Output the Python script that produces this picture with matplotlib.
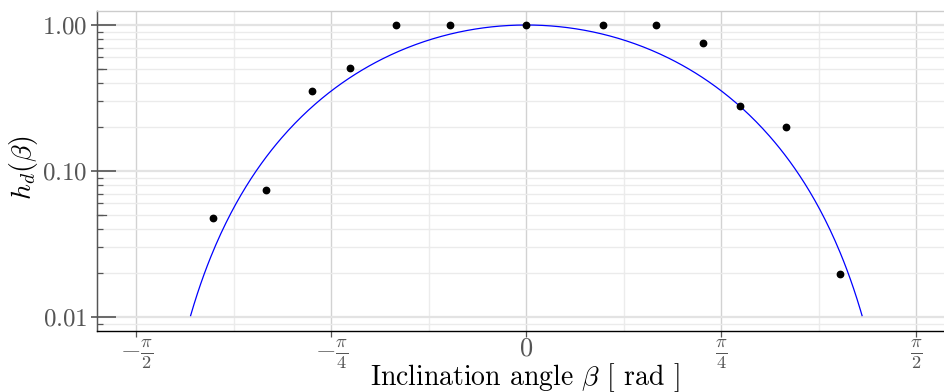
import numpy as np
import matplotlib
matplotlib.use("Agg")
import matplotlib.pyplot as plt
from matplotlib.ticker import FixedLocator, FixedFormatter, NullFormatter

plt.rcParams["mathtext.fontset"] = "cm"
plt.rcParams["font.family"] = "serif"
plt.rcParams["font.serif"] = ["cmr10", "DejaVu Serif"]
plt.rcParams["axes.unicode_minus"] = False

# measured directional response
beta = [-1.263, -1.048, -0.862, -0.711, -0.525, -0.309, 0.0,
        0.308, 0.522, 0.710, 0.859, 1.046, 1.262]
h_d = [0.0474, 0.0741, 0.353, 0.510, 1.0, 1.0, 1.0,
       1.0, 1.0, 0.756, 0.277, 0.199, 0.0198]

# model: h_d(beta) = cos(beta)^n over the valid range
model_exponent = 3
model_range = (-1.352, 1.352)

x_ticks = [-np.pi / 2, -np.pi / 4, 0, np.pi / 4, np.pi / 2]
x_ticklabels = [r"$-\frac{\pi}{2}$", r"$-\frac{\pi}{4}$", r"$0$",
                r"$\frac{\pi}{4}$", r"$\frac{\pi}{2}$"]
y_ticks = [0.01, 0.1, 1.0]
y_ticklabels = [r"$0.01$", r"$0.10$", r"$1.00$"]

fig = plt.figure(figsize=(9.44, 3.92), dpi=100)
ax = fig.add_axes([97 / 944, 1 - 331 / 392, 1 - 97 / 944, (331 - 10.7) / 392])

bb = np.linspace(model_range[0], model_range[1], 400)
ax.plot(bb, np.cos(bb) ** model_exponent, color="#0000ff", lw=0.9, zorder=3)
ax.plot(beta, h_d, "o", color="black", ms=4.6, zorder=4)

ax.set_yscale("log")
ax.set_xlim(-1.729, 1.682)
ax.set_ylim(0.00802, 1.253)

# x axis
ax.xaxis.set_major_locator(FixedLocator(x_ticks))
ax.xaxis.set_major_formatter(FixedFormatter(x_ticklabels))
ax.xaxis.set_minor_locator(FixedLocator([-3 * np.pi / 8, -np.pi / 8, np.pi / 8, 3 * np.pi / 8]))
ax.tick_params(axis="x", which="major", direction="out", length=4, width=0.9,
               color="#555555", labelcolor="#555555", labelsize=19, pad=0)
ax.tick_params(axis="x", which="minor", length=0)

# y axis
ax.yaxis.set_major_locator(FixedLocator(y_ticks))
ax.yaxis.set_major_formatter(FixedFormatter(y_ticklabels))
minor_y = [m * 10.0 ** e for e in (-3, -2, -1) for m in range(2, 10)]
minor_y = [v for v in minor_y if 0.00802 < v < 1.253 and abs(v - 1) > 1e-9]
ax.yaxis.set_minor_locator(FixedLocator(minor_y))
ax.yaxis.set_minor_formatter(NullFormatter())
ax.tick_params(axis="y", which="major", direction="in", length=14, width=1.2,
               color="#555555", labelcolor="#555555", labelsize=18, pad=7)
ax.tick_params(axis="y", which="minor", direction="in", length=4, width=0.9,
               color="#555555")

# longer tick at the half-decade marks
for yv in (0.05, 0.5):
    ax.plot([0, 9 / 846], [yv, yv], transform=ax.get_yaxis_transform(),
            color="#555555", lw=0.9, clip_on=False, zorder=5)

# outward stubs of the major y ticks
sec = ax.secondary_yaxis("left")
sec.yaxis.set_major_locator(FixedLocator(y_ticks))
sec.yaxis.set_major_formatter(NullFormatter())
sec.yaxis.set_minor_locator(FixedLocator([]))
sec.tick_params(axis="y", which="major", direction="out", length=4, width=1.2,
                color="#555555")
sec.spines["left"].set_color("#555555")

# grid
ax.grid(True, which="major", axis="x", color="#d2d2d2", lw=1.0)
ax.grid(True, which="minor", axis="x", color="#ececec", lw=1.0)
ax.grid(True, which="major", axis="y", color="#e3e3e3", lw=1.6)
ax.grid(True, which="minor", axis="y", color="#ebebeb", lw=1.0)
ax.set_axisbelow(True)

ax.spines["left"].set_color("#555555")
ax.spines["left"].set_linewidth(1.0)
ax.spines["bottom"].set_color("black")
ax.spines["bottom"].set_linewidth(1.0)
ax.spines["top"].set_color("#cccccc")
ax.spines["top"].set_linewidth(1.0)
ax.spines["right"].set_visible(False)

ax.set_xlabel(r"Inclination angle $\beta$ [ rad ]", fontsize=20, color="black")
ax.xaxis.set_label_coords((525 - 97) / 847, -(361 - 331) / 320.3)
ax.set_ylabel(r"$h_d(\beta)$", fontsize=20, color="black")
ax.yaxis.set_label_coords((40 - 97) / 847, (331 - 167.5) / 320.3)

fig.savefig("out.png", dpi=100)
